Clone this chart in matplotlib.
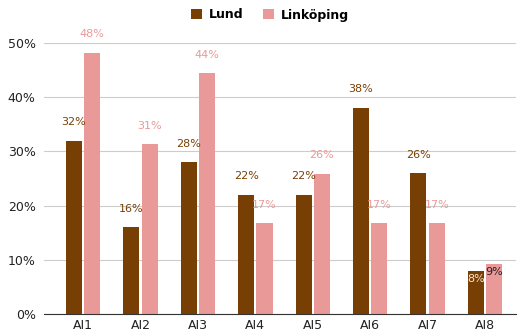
import numpy as np
import matplotlib.pyplot as plt
from matplotlib.ticker import FuncFormatter

# data
categories = ["AI1", "AI2", "AI3", "AI4", "AI5", "AI6", "AI7", "AI8"]
lund = [0.32, 0.16, 0.28, 0.22, 0.22, 0.38, 0.26, 0.079]
linkoping = [0.482, 0.313, 0.444, 0.167, 0.259, 0.167, 0.167, 0.093]

c_lund = "#783f04"
c_link = "#ea9999"

fig = plt.figure(figsize=(5.18, 3.33), dpi=100)
ax = fig.add_axes([44 / 518, 19 / 333, (516 - 44) / 518, 271 / 333])

x = np.arange(len(categories))
w = 0.28
b1 = ax.bar(x - w / 2 - 0.02, lund, w, color=c_lund, label="Lund", zorder=3)
b2 = ax.bar(x + w / 2 + 0.02, linkoping, w, color=c_link, label="Linköping", zorder=3)

# value labels
for i, (a, b) in enumerate(zip(lund, linkoping)):
    if categories[i] == "AI8":
        ax.text(x[i] - w / 2 - 0.02, a - 0.006, f"{round(a * 100)}%", ha="center", va="top",
                color="#f3e6d8", fontsize=8, zorder=4)
        ax.text(x[i] + w / 2 + 0.02, b - 0.006, f"{round(b * 100)}%", ha="center", va="top",
                color="#222222", fontsize=8, zorder=4)
        continue
    ax.text(x[i] - w / 2 - 0.02, a + 0.025, f"{round(a * 100)}%", ha="center", va="bottom",
            color=c_lund, fontsize=8, clip_on=False, zorder=4)
    ax.text(x[i] + w / 2 + 0.02, b + 0.025, f"{round(b * 100)}%", ha="center", va="bottom",
            color=c_link, fontsize=8, clip_on=False, zorder=4)

ax.set_xlim(-0.68, 7.54)
ax.set_ylim(0, 0.5)
ax.set_yticks(np.arange(0, 0.51, 0.1))
ax.yaxis.set_major_formatter(FuncFormatter(lambda v, p: f"{v * 100:.0f}%"))
ax.set_xticks(x)
ax.set_xticklabels(categories)
ax.tick_params(length=0, labelsize=9, colors="#222222")
ax.tick_params(axis="y", pad=6)
ax.grid(axis="y", color="#cccccc", linewidth=0.8, zorder=0)
for s in ["top", "right", "left"]:
    ax.spines[s].set_visible(False)
ax.spines["bottom"].set_color("#333333")
ax.spines["bottom"].set_zorder(5)

leg = fig.legend(handles=[b1, b2], loc="center", bbox_to_anchor=(270 / 518, 1 - 15 / 333),
                 ncol=2, frameon=False, prop={"weight": "bold", "size": 9},
                 handlelength=0.9, handleheight=0.9, columnspacing=1.5, handletextpad=0.6)

plt.savefig("out.png", dpi=100)
